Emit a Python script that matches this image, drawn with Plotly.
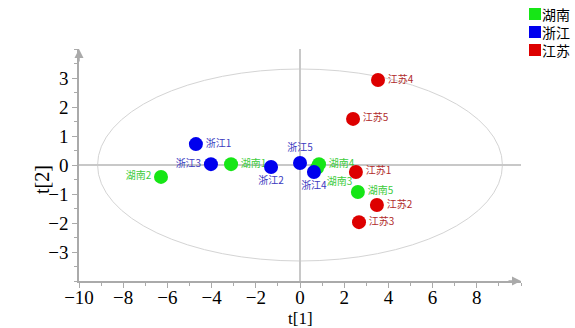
import plotly.graph_objects as go

# ---- data ----
groups = ["湖南", "浙江", "江苏"]
hunan_names = ["湖南1", "湖南2", "湖南3", "湖南4", "湖南5"]
hunan_t1 = [-3.12, -6.29, 0.77, 0.86, 2.62]
hunan_t2 = [0.03, -0.41, -0.10, 0.03, -0.93]
hunan_pos = ["middle right", "middle left", "bottom right", "middle right", "middle right"]

zhejiang_names = ["浙江1", "浙江2", "浙江3", "浙江4", "浙江5"]
zhejiang_t1 = [-4.71, -1.31, -4.03, 0.63, 0.0]
zhejiang_t2 = [0.72, -0.07, 0.03, -0.24, 0.07]
zhejiang_pos = ["middle right", "bottom center", "middle left", "bottom center", "top center"]

jiangsu_names = ["江苏1", "江苏2", "江苏3", "江苏4", "江苏5"]
jiangsu_t1 = [2.53, 3.48, 2.67, 3.53, 2.40]
jiangsu_t2 = [-0.24, -1.38, -1.97, 2.93, 1.59]
jiangsu_pos = ["middle right"] * 5

ellipse_a = 9.16
ellipse_b = 3.31

x_ticks = [-10, -8, -6, -4, -2, 0, 2, 4, 6, 8]
y_ticks = [-3, -2, -1, 0, 1, 2, 3]

marker_colors = ["#16e616", "#0000ee", "#dd0000"]
text_colors = ["#3ccc3c", "#3a3ac0", "#b02a2a"]

cjk = "Noto Sans CJK SC"
serif = "Liberation Serif, Noto Sans CJK SC"

W, H = 575, 328
ML, MR, MT, MB = 79, 54, 49, 47
PW, PH = W - ML - MR, H - MT - MB


def px(xp):
    return (xp - ML) / PW


def py(yp):
    return (H - MB - yp) / PH


fig = go.Figure()

series = [
    (hunan_t1, hunan_t2, hunan_names, hunan_pos),
    (zhejiang_t1, zhejiang_t2, zhejiang_names, zhejiang_pos),
    (jiangsu_t1, jiangsu_t2, jiangsu_names, jiangsu_pos),
]
for i, (xs, ys, names, pos) in enumerate(series):
    fig.add_trace(go.Scatter(
        x=xs, y=ys, text=names, mode="markers+text", textposition=pos,
        marker=dict(size=14, color=marker_colors[i], line=dict(width=0)),
        textfont=dict(family=cjk, size=10, color=text_colors[i]),
        showlegend=False, cliponaxis=False, hoverinfo="skip", name=groups[i],
    ))

fig.add_shape(type="circle", xref="x", yref="y",
              x0=-ellipse_a, x1=ellipse_a, y0=-ellipse_b, y1=ellipse_b,
              line=dict(color="#d4d4d4", width=1), layer="below")

# legend drawn as squares + one multi-line text (top right)
row = 18
for i, g in enumerate(groups):
    cy = 14 + row * i
    fig.add_shape(type="rect", xref="paper", yref="paper",
                  x0=px(529), x1=px(541), y0=py(cy + 6), y1=py(cy - 6),
                  fillcolor=marker_colors[i], line=dict(width=0))
fig.add_annotation(x=px(541), y=py(14 + row), xref="paper", yref="paper",
                   text="<br>".join(groups), showarrow=False,
                   xanchor="left", yanchor="middle", align="left",
                   borderpad=0,
                   font=dict(family=cjk, size=14, color="black"))

# axis titles
fig.add_annotation(x=px(300), y=py(329), xref="paper", yref="paper",
                   text="t[1]", showarrow=False, xanchor="center", yanchor="bottom",
                   borderpad=0,
                   font=dict(family=serif, size=17, color="black"))
fig.add_annotation(x=px(42), y=py(180), xref="paper", yref="paper",
                   text="t[2]", showarrow=False, xanchor="center", yanchor="middle",
                   textangle=-90,
                   font=dict(family=serif, size=20, color="black"))

# axis arrows
fig.add_annotation(x=1, y=0, xref="paper", yref="paper", ax=-14, ay=0,
                   showarrow=True, arrowhead=2, arrowsize=1.2, arrowwidth=1.5,
                   arrowcolor="#aaaaaa", text="")
fig.add_annotation(x=0, y=1, xref="paper", yref="paper", ax=0, ay=14,
                   showarrow=True, arrowhead=2, arrowsize=1.2, arrowwidth=1.5,
                   arrowcolor="#aaaaaa", text="")

axis_common = dict(
    showgrid=False, zeroline=True, zerolinecolor="#c8c8c8", zerolinewidth=2,
    showline=True, linecolor="#aaaaaa", linewidth=1.5,
    ticks="outside", tickcolor="#aaaaaa", ticklen=5,
    tickfont=dict(family=serif, size=19, color="black"),
)

fig.update_layout(
    width=W, height=H,
    margin=dict(l=ML, r=MR, t=MT, b=MB, autoexpand=False),
    paper_bgcolor="white", plot_bgcolor="white",
    showlegend=False,
    xaxis=dict(range=[-10, 10], tickvals=x_ticks, ticklabelstandoff=-7,
               minor=dict(dtick=1, ticks="outside", ticklen=3, tickcolor="#aaaaaa"),
               **axis_common),
    yaxis=dict(range=[-4, 4], tickvals=y_ticks,
               minor=dict(dtick=0.5, ticks="outside", ticklen=3, tickcolor="#aaaaaa"),
               **axis_common),
    font=dict(family=serif),
)

fig.write_html("out.html")
